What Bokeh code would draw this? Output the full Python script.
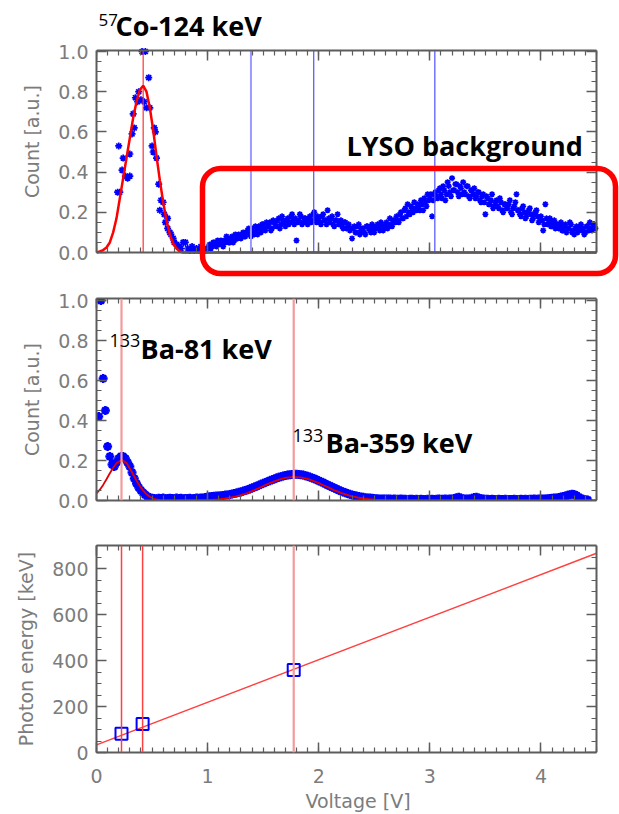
import numpy as np
from bokeh.plotting import figure
from bokeh.layouts import column
from bokeh.models import (Range1d, LinearAxis, SingleIntervalTicker, PrintfTickFormatter,
                          Span, Label, BoxAnnotation)
from bokeh.embed import file_html
from bokeh.resources import INLINE

# ---------------- data ----------------
# Top panel: 57Co spectrum (peak region, read point by point)
co_peak_v = [0.19, 0.20, 0.21, 0.23, 0.24, 0.26, 0.28, 0.30, 0.30, 0.32, 0.33, 0.34, 0.35, 0.37, 0.38,
             0.40, 0.41, 0.43, 0.44, 0.45, 0.47, 0.48, 0.50, 0.51, 0.52, 0.53, 0.54, 0.56, 0.57, 0.58,
             0.60, 0.61, 0.62, 0.64, 0.64, 0.66, 0.67, 0.69, 0.70, 0.72, 0.74, 0.76, 0.78, 0.80, 0.82,
             0.84, 0.86, 0.88, 0.90, 0.92, 0.94, 0.96, 0.98]
co_peak_c = [0.30, 0.53, 0.30, 0.41, 0.47, 0.38, 0.37, 0.38, 0.49, 0.59, 0.69, 0.62, 0.77, 0.75, 0.80,
             0.76, 1.00, 0.75, 1.00, 0.72, 0.87, 0.72, 0.53, 0.50, 0.62, 0.60, 0.47, 0.34, 0.21, 0.26,
             0.25, 0.19, 0.15, 0.17, 0.12, 0.10, 0.09, 0.07, 0.05, 0.04, 0.03, 0.02, 0.05, 0.05, 0.02,
             0.01, 0.03, 0.01, 0.02, 0.01, 0.03, 0.02, 0.01]
# Top panel: LYSO background, bins of 0.02 V starting at 1.00 V (even bins) and 1.01 V (odd bins)
lyso_start_a, lyso_start_b, lyso_step = 1.00, 1.01, 0.02
lyso_c_a = [0.02, 0.04, 0.03, 0.05, 0.03, 0.04, 0.06, 0.03, 0.05, 0.07,
            0.05, 0.08, 0.06, 0.07, 0.09, 0.07, 0.10, 0.08, 0.11, 0.09,
            0.12, 0.09, 0.11, 0.13, 0.10, 0.14, 0.11, 0.13, 0.15, 0.12,
            0.15, 0.13, 0.17, 0.14, 0.16, 0.13, 0.17, 0.15, 0.19, 0.14,
            0.06, 0.16, 0.18, 0.15, 0.17, 0.14, 0.18, 0.16, 0.20, 0.15,
            0.17, 0.14, 0.19, 0.16, 0.21, 0.15, 0.18, 0.13, 0.16, 0.14,
            0.16, 0.12, 0.15, 0.13, 0.11, 0.07, 0.13, 0.10, 0.14, 0.11,
            0.12, 0.09, 0.13, 0.11, 0.14, 0.10, 0.13, 0.12, 0.15, 0.11,
            0.14, 0.12, 0.17, 0.13, 0.16, 0.18, 0.15, 0.20, 0.17, 0.22,
            0.24, 0.19, 0.22, 0.25, 0.21, 0.23, 0.26, 0.21, 0.25, 0.29,
            0.27, 0.18, 0.29, 0.28, 0.31, 0.29, 0.33, 0.26, 0.35, 0.30,
            0.37, 0.31, 0.34, 0.28, 0.32, 0.35, 0.29, 0.33, 0.27, 0.31,
            0.32, 0.28, 0.30, 0.25, 0.29, 0.19, 0.27, 0.24, 0.29, 0.23,
            0.26, 0.22, 0.25, 0.20, 0.24, 0.22, 0.26, 0.19, 0.23, 0.29,
            0.21, 0.18, 0.23, 0.17, 0.20, 0.22, 0.16, 0.19, 0.21, 0.15,
            0.18, 0.11, 0.24, 0.14, 0.17, 0.13, 0.16, 0.14, 0.12, 0.15,
            0.11, 0.14, 0.12, 0.15, 0.10, 0.09, 0.13, 0.11, 0.14, 0.12,
            0.10, 0.13, 0.15, 0.11, 0.14]
lyso_c_b = [0.03, 0.02, 0.05, 0.04, 0.06, 0.05, 0.04, 0.06, 0.08, 0.05,
            0.07, 0.05, 0.09, 0.07, 0.08, 0.09, 0.08, 0.10, 0.12, 0.08,
            0.10, 0.13, 0.09, 0.12, 0.14, 0.12, 0.15, 0.13, 0.11, 0.16,
            0.14, 0.16, 0.12, 0.18, 0.15, 0.16, 0.14, 0.18, 0.16, 0.17,
            0.15, 0.19, 0.14, 0.17, 0.15, 0.17, 0.15, 0.19, 0.17, 0.18,
            0.15, 0.18, 0.16, 0.14, 0.17, 0.17, 0.14, 0.16, 0.19, 0.15,
            0.13, 0.15, 0.12, 0.14, 0.12, 0.12, 0.10, 0.13, 0.09, 0.12,
            0.10, 0.13, 0.12, 0.10, 0.12, 0.12, 0.14, 0.11, 0.13, 0.12,
            0.15, 0.13, 0.14, 0.16, 0.15, 0.16, 0.19, 0.17, 0.21, 0.18,
            0.20, 0.23, 0.20, 0.22, 0.24, 0.21, 0.24, 0.27, 0.23, 0.26,
            0.29, 0.26, 0.30, 0.27, 0.32, 0.27, 0.31, 0.29, 0.33, 0.28,
            0.31, 0.34, 0.30, 0.33, 0.29, 0.30, 0.33, 0.28, 0.31, 0.29,
            0.27, 0.30, 0.26, 0.28, 0.25, 0.28, 0.24, 0.26, 0.22, 0.25,
            0.23, 0.27, 0.21, 0.24, 0.22, 0.24, 0.20, 0.22, 0.25, 0.21,
            0.19, 0.22, 0.20, 0.18, 0.21, 0.19, 0.17, 0.20, 0.18, 0.16,
            0.16, 0.14, 0.17, 0.15, 0.13, 0.15, 0.12, 0.14, 0.13, 0.11,
            0.13, 0.10, 0.12, 0.14, 0.11, 0.12, 0.10, 0.13, 0.11, 0.09,
            0.13, 0.11, 0.12, 0.14, 0.12]
# Top panel: Gaussian fit of the 124 keV peak
co_fit_v = [0.00, 0.03, 0.06, 0.09, 0.12, 0.15, 0.18, 0.21, 0.24, 0.27, 0.30, 0.33, 0.36, 0.39, 0.42,
            0.45, 0.48, 0.51, 0.54, 0.57, 0.60, 0.63, 0.66, 0.69, 0.72, 0.75, 0.78, 4.50]
co_fit_c = [0.0, 0.005, 0.012, 0.025, 0.05, 0.10, 0.17, 0.27, 0.37, 0.47, 0.57, 0.67, 0.75, 0.81, 0.83,
            0.80, 0.72, 0.61, 0.48, 0.36, 0.25, 0.16, 0.09, 0.045, 0.02, 0.005, 0.0, 0.0]
co_peak_pos = [0.42]
lyso_marks = [1.39, 1.955, 3.045]

# Middle panel: 133Ba spectrum, bins of 0.02 V starting at 0.02 V
ba_start, ba_step = 0.02, 0.02
ba_c = [0.42, 1.00, 0.61, 0.45, 0.27, 0.22, 0.18, 0.17, 0.19, 0.21,
        0.22, 0.22, 0.21, 0.19, 0.17, 0.14, 0.11, 0.085, 0.065, 0.05,
        0.038, 0.028, 0.02, 0.014, 0.011,
        0.010, 0.009, 0.011, 0.010, 0.012, 0.009, 0.010, 0.011, 0.010, 0.009,
        0.012, 0.010, 0.011, 0.009, 0.010, 0.010, 0.011, 0.009, 0.010, 0.012,
        0.011, 0.012, 0.013, 0.015,
        0.018, 0.019, 0.020, 0.021, 0.022, 0.022, 0.024, 0.025, 0.027, 0.028,
        0.030, 0.033, 0.035, 0.038, 0.041, 0.043, 0.047, 0.050, 0.054, 0.058,
        0.063, 0.067, 0.071, 0.076, 0.081, 0.086, 0.090, 0.095, 0.099, 0.104,
        0.108, 0.112, 0.116, 0.119, 0.122, 0.125, 0.127, 0.129, 0.130, 0.131,
        0.131, 0.130, 0.129, 0.127, 0.124, 0.121, 0.117, 0.113, 0.109, 0.104,
        0.099, 0.094, 0.089, 0.083, 0.078, 0.073, 0.067, 0.062, 0.057, 0.052,
        0.047, 0.043, 0.039, 0.035, 0.031, 0.028, 0.025, 0.022, 0.020, 0.018,
        0.016, 0.014, 0.013, 0.012, 0.011, 0.010,
        0.009, 0.008, 0.008, 0.007, 0.008, 0.007, 0.007, 0.006, 0.007, 0.006,
        0.006, 0.007, 0.006, 0.006, 0.005, 0.006, 0.006, 0.005, 0.006, 0.005,
        0.006, 0.005, 0.005, 0.006, 0.005, 0.006, 0.005, 0.006, 0.007, 0.006,
        0.006, 0.007, 0.006, 0.007, 0.008, 0.010, 0.014, 0.016, 0.012, 0.008,
        0.007, 0.007, 0.008, 0.011, 0.015, 0.016, 0.013, 0.009, 0.007, 0.006,
        0.006, 0.005, 0.006, 0.005, 0.005, 0.006, 0.005, 0.005, 0.006, 0.005,
        0.005, 0.005, 0.006, 0.005, 0.005, 0.006, 0.005, 0.006, 0.005, 0.006,
        0.006, 0.007, 0.006, 0.007, 0.007, 0.008, 0.008, 0.009, 0.010, 0.011,
        0.012, 0.013, 0.015, 0.017, 0.020, 0.023, 0.026, 0.029, 0.031, 0.030,
        0.025, 0.017, 0.010, 0.006, 0.004, 0.003]
# Middle panel: Gaussian fits of the 81 keV and 359 keV peaks
ba_fit_v = [0.00, 0.03, 0.06, 0.09, 0.12, 0.15, 0.18, 0.21, 0.24, 0.27, 0.30, 0.33, 0.36, 0.39, 0.42,
            0.45, 0.48, 0.51, 0.54, 0.57, 0.60, 0.65, 1.00, 1.05, 1.10, 1.15, 1.20, 1.25, 1.30, 1.35,
            1.40, 1.45, 1.50, 1.55, 1.60, 1.65, 1.70, 1.75, 1.78, 1.85, 1.90, 1.95, 2.00, 2.05, 2.10,
            2.15, 2.20, 2.25, 2.30, 2.35, 2.40, 2.45, 2.50, 2.55, 2.60, 2.70, 4.50]
ba_fit_c = [0.035, 0.054, 0.078, 0.106, 0.136, 0.164, 0.186, 0.198, 0.199, 0.188, 0.160, 0.130, 0.100,
            0.072, 0.050, 0.032, 0.019, 0.010, 0.005, 0.002, 0.001, 0.0, 0.0025, 0.004, 0.006, 0.0095,
            0.014, 0.0195, 0.027, 0.036, 0.047, 0.059, 0.072, 0.084, 0.096, 0.106, 0.113, 0.117, 0.118,
            0.114, 0.108, 0.098, 0.087, 0.074, 0.062, 0.049, 0.038, 0.029, 0.021, 0.015, 0.010, 0.007,
            0.004, 0.0027, 0.0016, 0.0, 0.0]
ba_peak_pos = [0.225, 1.775]

# Bottom panel: calibration
calib_v = [0.225, 0.415, 1.775]
calib_e = [81, 124, 359]
calib_fit_v = [0.0, 4.5]
calib_fit_e = [33, 866]

# ---------------- styling ----------------
FRAME = "#5c5c5c"
LABEL_GRAY = "#7c7c7c"
TICK_FONT = "DejaVu Sans"
ANN_FONT = "Open Sans"
XMAX = 4.5
TOP_YMAX = 1.005


def style_axis(ax):
    ax.major_tick_in, ax.major_tick_out = 10, 0
    ax.minor_tick_in, ax.minor_tick_out = 5, 0
    ax.major_tick_line_color = FRAME
    ax.minor_tick_line_color = FRAME
    ax.major_tick_line_width = 1.5
    ax.minor_tick_line_width = 1.2
    ax.axis_line_color = FRAME
    ax.axis_line_width = 2
    ax.major_label_text_font = TICK_FONT
    ax.major_label_text_font_size = "19px"
    ax.major_label_text_color = LABEL_GRAY


def hide_labels(ax):
    ax.major_label_text_font_size = "0px"
    ax.major_label_text_color = None
    ax.major_label_standoff = 0


def set_ylabel(ax, text, fmt):
    ax.formatter = PrintfTickFormatter(format=fmt)
    ax.major_label_standoff = 8
    ax.axis_label = text
    ax.axis_label_text_font = TICK_FONT
    ax.axis_label_text_font_size = "19px"
    ax.axis_label_text_font_style = "normal"
    ax.axis_label_text_color = LABEL_GRAY
    ax.axis_label_standoff = 12


# pixel -> data helpers, used only to place annotations and ranges
def vx(px):
    return (px - 96) * XMAX / 500.0


def cy1(py):
    return (252 - py) * TOP_YMAX / 202.0


def cy2(py):
    return (500 - py) * 1.01 / 202.0


def make_fig(height, ymax, yint, yfmt, ylabel, top, bottom, xlabels):
    # frame runs to the right canvas edge; the right axis is pinned at x = XMAX
    p = figure(width=619, height=height, x_range=Range1d(0, vx(619)), y_range=Range1d(0, ymax),
               output_backend="svg", toolbar_location=None,
               min_border_left=96, min_border_right=0, min_border_top=top, min_border_bottom=bottom)
    p.grid.visible = False
    p.outline_line_color = None
    xt = SingleIntervalTicker(interval=1, num_minor_ticks=10)
    yt = SingleIntervalTicker(interval=yint, num_minor_ticks=4)
    xax = p.below[0]
    xax.ticker = xt
    xax.bounds = (0, XMAX)
    p.left[0].ticker = yt
    p.add_layout(LinearAxis(ticker=xt, bounds=(0, XMAX)), "above")
    p.add_layout(LinearAxis(ticker=yt, fixed_location=XMAX), "right")
    for ax in p.axis:
        style_axis(ax)
    hide_labels(p.above[0])
    hide_labels(p.right[0])
    set_ylabel(p.left[0], ylabel, yfmt)
    if xlabels:
        xax.formatter = PrintfTickFormatter(format="%d")
        xax.major_label_standoff = 16
        xax.axis_label = "Voltage [V]"
        xax.axis_label_text_font = TICK_FONT
        xax.axis_label_text_font_size = "19px"
        xax.axis_label_text_font_style = "normal"
        xax.axis_label_text_color = LABEL_GRAY
        xax.axis_label_standoff = 4
    else:
        hide_labels(xax)
    return p


def ann(p, x, y, text, size, bold=True):
    p.add_layout(Label(x=x, y=y, text=text, text_font=ANN_FONT, text_font_size=size,
                       text_font_style="bold" if bold else "normal", text_color="black",
                       text_baseline="alphabetic", text_align="left"))


BIG_SHIFT = 10    # pixel correction for label baselines
SMALL_SHIFT = 8

# ---------------- top panel ----------------
# The frame reaches to the right, top and bottom edges of the canvas so that the title and the
# rounded box can go beyond the axes box; right/top/bottom axes are pinned with fixed_location.
p1 = figure(width=619, height=282, x_range=Range1d(0, vx(619)), y_range=Range1d(cy1(282), cy1(0)),
            output_backend="svg", toolbar_location=None,
            min_border_left=96, min_border_right=0, min_border_top=0, min_border_bottom=0)
p1.grid.visible = False
p1.outline_line_color = None
xt1 = SingleIntervalTicker(interval=1, num_minor_ticks=10)
yt1 = SingleIntervalTicker(interval=0.2, num_minor_ticks=4)
lax = p1.left[0]
lax.ticker = yt1
lax.bounds = (0, TOP_YMAX)
style_axis(lax)
set_ylabel(lax, "Count [a.u.]", "%.1f")
bax = p1.below[0]
bax.ticker = xt1
bax.fixed_location = 0
bax.bounds = (0, XMAX)
style_axis(bax)
hide_labels(bax)
tax = LinearAxis(ticker=xt1, fixed_location=TOP_YMAX, bounds=(0, XMAX))
style_axis(tax)
hide_labels(tax)
p1.add_layout(tax, "above")
rax = LinearAxis(ticker=yt1, fixed_location=XMAX, bounds=(0, TOP_YMAX))
style_axis(rax)
hide_labels(rax)
p1.add_layout(rax, "right")

lyso_v_a = [round(lyso_start_a + i * lyso_step, 3) for i in range(len(lyso_c_a))]
lyso_v_b = [round(lyso_start_b + i * lyso_step, 3) for i in range(len(lyso_c_b))]
p1.scatter(co_peak_v, co_peak_c, marker="asterisk", size=7, line_color="blue", line_width=1.7)
p1.scatter(lyso_v_a, lyso_c_a, marker="asterisk", size=6, line_color="blue", line_width=1.6)
p1.scatter(lyso_v_b, lyso_c_b, marker="asterisk", size=6, line_color="blue", line_width=1.6)
p1.segment(x0=co_peak_pos, y0=[0] * len(co_peak_pos), x1=co_peak_pos, y1=[TOP_YMAX] * len(co_peak_pos),
           line_color="#ff3030", line_width=1.2)
p1.segment(x0=lyso_marks[:1], y0=[0], x1=lyso_marks[:1], y1=[TOP_YMAX], line_color="#9a9aff", line_width=2)
p1.segment(x0=lyso_marks[1:], y0=[0, 0], x1=lyso_marks[1:], y1=[TOP_YMAX, TOP_YMAX],
           line_color="#5050ff", line_width=1.2)
p1.line(co_fit_v, co_fit_c, line_color="red", line_width=2.5)

p1.add_layout(BoxAnnotation(left=vx(202), right=vx(615), top=cy1(168), bottom=cy1(273),
                            fill_color=None, fill_alpha=0, line_color="red", line_alpha=1.0,
                            line_width=5.5, border_radius=18, level="overlay"))
ann(p1, vx(98), cy1(27 - SMALL_SHIFT), "57", "17px", bold=False)
ann(p1, vx(115), cy1(35 - BIG_SHIFT), "Co-124 keV", "27px")
ann(p1, vx(346), cy1(155 - BIG_SHIFT), "LYSO background", "27px")

# ---------------- middle panel ----------------
p2 = make_fig(238, 1.01, 0.2, "%.1f", "Count [a.u.]", 16, 20, False)
ba_v = [round(ba_start + i * ba_step, 3) for i in range(len(ba_c))]
p2.scatter(ba_v, ba_c, marker="asterisk", size=9, line_color="blue", line_width=2.6)
p2.line(ba_fit_v, ba_fit_c, line_color="#e00000", line_width=1.8)
for v in ba_peak_pos:
    p2.add_layout(Span(location=v, dimension="height", line_color="#f39a9a", line_width=2.2))

ann(p2, vx(109), cy2(348 - SMALL_SHIFT), "133", "18px", bold=False)
ann(p2, vx(140), cy2(358 - BIG_SHIFT), "Ba-81 keV", "27px")
ann(p2, vx(292), cy2(443 - SMALL_SHIFT), "133", "18px", bold=False)
ann(p2, vx(325), cy2(452 - BIG_SHIFT), "Ba-359 keV", "27px")

# ---------------- bottom panel ----------------
p3 = make_fig(294, 900, 200, "%d", "Photon energy [keV]", 25, 46, True)
p3.line(calib_fit_v, calib_fit_e, line_color="#ff4040", line_width=1.5)
for v, col, w in zip(calib_v, ["#ff4040", "#ff4040", "#f39a9a"], [1.5, 1.5, 2.2]):
    p3.add_layout(Span(location=v, dimension="height", line_color=col, line_width=w))
p3.scatter(calib_v, calib_e, marker="square", size=12, fill_color=None, line_color="blue", line_width=2)

layout = column(p1, p2, p3, spacing=0)
open("out.html", "w").write(file_html(layout, INLINE))
